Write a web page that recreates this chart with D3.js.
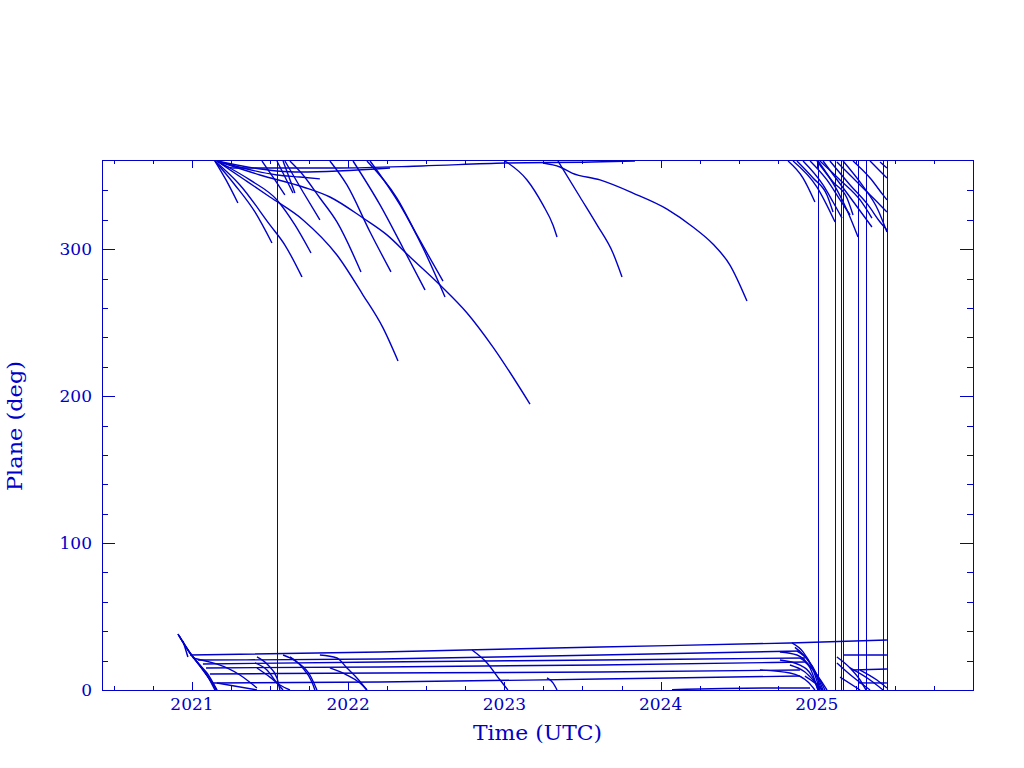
<!DOCTYPE html>
<html><head><meta charset="utf-8">
<script src="https://cdn.jsdelivr.net/npm/d3@7"></script>
<style>body{margin:0;background:#fff;}svg{display:block}</style>
</head><body>
<svg id="chart" width="1024" height="768"></svg>
<script>
// ---------- axis data ----------
const timeDomain = [2020.424, 2026.0];
const planeDomain = [0, 360];
const yearTicks = [2021, 2022, 2023, 2024, 2025];
const yearLabels = ["2021", "2022", "2023", "2024", "2025"];
const planeTicks = [0, 100, 200, 300];
const planeLabels = ["0", "100", "200", "300"];
const xLabel = "Time (UTC)";
const yLabel = "Plane (deg)";

// ---------- series: [year, plane deg] ----------
const launchTracks = [
  [[2020.910,38.1],[2020.987,25.2],[2021.051,17.0],[2021.096,11.6],[2021.160,0]],
  [[2020.910,38.1],[2020.974,27.2],[2021.038,18.4],[2021.096,10.2],[2021.147,0]],
  [[2020.920,36.5],[2021.006,22.5],[2021.070,13.6],[2021.134,4.1],[2021.160,0]],
  [[2020.915,37.4],[2020.995,24.0],[2021.060,15.5],[2021.115,7.0],[2021.155,0]],
  [[2020.942,33.3],[2020.974,22.5]]
];
const planeTracks = [
  [[2020.987,23.8],[2022.204,25.9],[2023.612,29.3],[2024.828,32.0],[2025.449,34.0]],
  [[2021.038,20.4],[2022.204,21.1],[2023.612,23.8],[2024.892,26.5]],
  [[2021.070,17.7],[2022.204,19.1],[2023.612,20.4],[2024.924,21.8]],
  [[2021.090,15.0],[2022.204,15.7],[2023.612,17.0],[2024.924,19.1]],
  [[2021.115,10.9],[2022.204,11.6],[2023.612,12.2],[2024.892,13.6]],
  [[2021.134,4.8],[2022.204,5.4],[2023.612,7.5],[2024.892,9.5]],
  [[2024.073,0.2],[2024.764,1.4],[2024.957,1.4]]
];
const stubTracks = [
  [[2025.168,23.8],[2025.449,23.8]],
  [[2025.232,13.6],[2025.449,14.3]],
  [[2025.264,4.8],[2025.449,4.8]]
];
const bottomDrops = [
  [[2021.416,22.5],[2021.487,17.0],[2021.544,8.2],[2021.563,0]],
  [[2021.403,18.4],[2021.480,13.6],[2021.544,4.8],[2021.583,0]],
  [[2021.416,15.0],[2021.499,8.8],[2021.563,3.4],[2021.627,0]],
  [[2021.583,23.8],[2021.672,19.1],[2021.755,10.2],[2021.800,0]],
  [[2021.627,22.5],[2021.704,15.7],[2021.768,5.4],[2021.787,0]],
  [[2021.819,23.8],[2021.928,21.8],[2021.992,15.0],[2022.056,8.2],[2022.120,0]],
  [[2021.883,15.0],[2021.992,10.2],[2022.076,4.8],[2022.120,0]],
  [[2021.006,21.8],[2021.307,10.2],[2021.416,1.4]],
  [[2021.160,4.8],[2021.416,0]],
  [[2022.793,27.2],[2022.889,18.4],[2022.972,6.8],[2023.023,0]],
  [[2023.273,8.2],[2023.311,4.8],[2023.337,0]]
];
const rightDrops = [
  [[2024.841,32.0],[2024.912,25.9],[2024.969,15.7],[2025.020,0]],
  [[2024.873,26.5],[2024.944,20.4],[2024.995,11.6],[2025.040,0]],
  [[2024.892,21.8],[2024.969,15.0],[2025.020,6.8],[2025.052,0]],
  [[2024.924,19.1],[2024.988,12.2],[2025.033,5.4],[2025.065,0]],
  [[2024.828,17.0],[2024.924,12.2],[2024.988,5.4],[2025.033,0]],
  [[2024.764,25.9],[2024.873,23.8],[2024.957,15.0],[2025.008,0]],
  [[2024.764,20.4],[2024.892,17.0],[2024.976,8.2],[2025.008,0]],
  [[2024.636,13.6],[2024.828,11.6],[2024.944,5.4],[2024.988,0]],
  [[2024.924,9.5],[2024.988,4.8],[2025.040,0]],
  [[2024.860,29.0],[2024.930,22.0],[2024.985,13.0],[2025.030,0]],
  [[2025.129,22.5],[2025.213,15.0],[2025.277,6.8],[2025.315,0]],
  [[2025.129,18.4],[2025.232,8.8],[2025.341,0]],
  [[2025.213,15.0],[2025.341,6.8],[2025.424,0]],
  [[2025.277,13.6],[2025.385,6.8],[2025.449,1.4]],
  [[2025.149,8.8],[2025.277,0]]
];
const topTracks = [
  [[2021.147,360],[2021.218,347.1],[2021.294,331.4]],
  [[2021.147,360],[2021.275,343.7],[2021.403,325.3],[2021.512,304.2]],
  [[2021.147,360],[2021.307,343.7],[2021.499,316.5],[2021.595,302.8],[2021.704,281.1]],
  [[2021.160,360],[2021.371,347.1],[2021.544,333.5],[2021.659,316.5],[2021.762,297.4]],
  [[2021.160,360],[2021.339,347.1],[2021.499,335.5],[2021.711,319.9],[2021.928,296.0],[2022.095,268.8],[2022.223,246.4],[2022.319,223.9]],
  [[2021.160,360],[2021.435,350.5],[2021.711,342.3],[2021.883,335.5],[2022.095,321.2],[2022.248,309.7],[2022.396,294.7],[2022.588,275.6],[2022.761,256.6],[2022.927,233.4],[2023.164,194.6]],
  [[2021.583,360],[2021.659,338.2]],
  [[2021.627,360],[2021.711,350.5],[2021.819,334.8],[2021.928,318.5],[2022.082,284.5]],
  [[2021.883,360],[2021.992,343.7],[2022.140,311.7],[2022.274,284.5]],
  [[2022.031,360],[2022.204,330.1],[2022.351,300.8],[2022.492,272.2]],
  [[2022.120,360],[2022.312,334.8],[2022.440,309.7],[2022.607,278.3]],
  [[2022.140,360],[2022.332,330.1],[2022.479,300.8],[2022.620,267.5]],
  [[2021.544,360],[2021.647,338.2]],
  [[2021.595,360],[2021.711,338.9],[2021.819,319.9]],
  [[2021.448,360],[2021.531,347.1],[2021.595,336.9]],
  [[2021.160,360],[2021.262,355.2],[2021.947,355.2],[2022.472,356.6],[2023.004,358.6],[2023.561,359.3],[2023.836,360]],
  [[2021.160,360],[2021.544,353.2],[2021.691,352.5],[2022.268,355.2]],
  [[2021.160,360],[2021.544,350.5],[2021.691,349.1],[2021.819,347.8]],
  [[2023.004,360],[2023.145,347.1],[2023.247,330.1],[2023.311,316.5],[2023.337,308.3]],
  [[2023.343,360],[2023.484,335.5],[2023.593,316.5],[2023.695,297.4],[2023.753,281.1]],
  [[2023.247,358.6],[2023.356,355.9],[2023.433,351.8],[2023.612,347.1],[2023.823,338.2],[2024.041,327.3],[2024.207,315.1],[2024.335,303.5],[2024.444,289.2],[2024.553,264.7]]
];
const rightTopTracks = [
  [[2024.816,360],[2024.912,348.4],[2024.988,332.1]],
  [[2024.848,360],[2025.001,342.3],[2025.117,318.5]],
  [[2024.873,360],[2024.976,348.4],[2025.065,336.9],[2025.104,325.3]],
  [[2024.912,360],[2025.040,343.7],[2025.104,332.1],[2025.161,321.2]],
  [[2025.008,360],[2025.129,340.3],[2025.193,326.7],[2025.264,308.3]],
  [[2025.001,360],[2025.104,345.7],[2025.193,334.8],[2025.232,323.3]],
  [[2025.040,360],[2025.193,338.2],[2025.353,315.1]],
  [[2025.084,360],[2025.213,343.7],[2025.328,330.1],[2025.405,318.5],[2025.449,313.1]],
  [[2025.129,359.3],[2025.296,341.6],[2025.405,330.1],[2025.449,325.3]],
  [[2025.232,360],[2025.341,348.4],[2025.424,336.9],[2025.449,333.5]],
  [[2025.341,360],[2025.417,351.8],[2025.449,348.4]],
  [[2025.405,359.3],[2025.449,355.2]],
  [[2024.957,360],[2025.065,347.1],[2025.149,333.5],[2025.213,323.3]],
  [[2025.020,360],[2025.149,347.1],[2025.277,333.5],[2025.353,321.2]],
  [[2025.168,360],[2025.290,343.7],[2025.392,326.7],[2025.449,311.7]]
];
const wrapYears = [2021.544, 2025.008, 2025.117, 2025.155, 2025.168, 2025.264, 2025.315, 2025.424, 2025.449];

// ---------- drawing ----------
const ink = "#0000c8";
const L = 102, R = 973, T = 161, B = 690;
const svg = d3.select("#chart");
const x = d3.scaleLinear().domain(timeDomain).range([L, R]);
const y = d3.scaleLinear().domain(planeDomain).range([B, T]);

const g = svg.append("g");
const line = d3.line().x(d => x(d[0])).y(d => y(d[1])).curve(d3.curveMonotoneX);
const allTracks = [].concat(launchTracks, planeTracks, stubTracks, bottomDrops, rightDrops, topTracks, rightTopTracks);
g.selectAll("path.trk").data(allTracks).enter().append("path")
  .attr("class", "trk").attr("d", line)
  .attr("fill", "none").attr("stroke", ink).attr("stroke-width", 1.4);
g.selectAll("line.wrap").data(wrapYears).enter().append("line")
  .attr("shape-rendering", "crispEdges")
  .attr("x1", d => Math.round(x(d)) + 0.5).attr("x2", d => Math.round(x(d)) + 0.5)
  .attr("y1", y(0)).attr("y2", y(360))
  .attr("stroke", ink).attr("stroke-width", 1);

// frame
svg.append("rect").attr("shape-rendering", "crispEdges")
  .attr("x", L).attr("y", T - 1).attr("width", R - L).attr("height", B - T + 1)
  .attr("fill", "none").attr("stroke", ink).attr("stroke-width", 1);

// axes with ticks on all sides
const xMinor = d3.range(2020.5, 2026.0, 0.25).filter(v => !yearTicks.includes(v));
const yMinor = d3.range(20, 360, 20).filter(v => !planeTicks.includes(v));
function drawAxis(axis, tr) {
  const a = svg.append("g").attr("transform", tr).attr("shape-rendering", "crispEdges").call(axis);
  a.select(".domain").remove();
  a.selectAll(".tick line").attr("stroke", ink);
  a.selectAll(".tick text").remove();
  return a;
}
drawAxis(d3.axisBottom(x).tickValues(yearTicks).tickSizeInner(-8).tickSizeOuter(0), `translate(0,${B})`);
drawAxis(d3.axisBottom(x).tickValues(xMinor).tickSizeInner(-4).tickSizeOuter(0), `translate(0,${B})`);
drawAxis(d3.axisTop(x).tickValues(yearTicks).tickSizeInner(-8).tickSizeOuter(0), `translate(0,${T - 1})`);
drawAxis(d3.axisTop(x).tickValues(xMinor).tickSizeInner(-4).tickSizeOuter(0), `translate(0,${T - 1})`);
drawAxis(d3.axisLeft(y).tickValues(planeTicks).tickSizeInner(-13).tickSizeOuter(0), `translate(${L},0)`);
drawAxis(d3.axisLeft(y).tickValues(yMinor).tickSizeInner(-6).tickSizeOuter(0), `translate(${L},0)`);
drawAxis(d3.axisRight(y).tickValues(planeTicks).tickSizeInner(-13).tickSizeOuter(0), `translate(${R},0)`);
drawAxis(d3.axisRight(y).tickValues(yMinor).tickSizeInner(-6).tickSizeOuter(0), `translate(${R},0)`);

// labels
const font = "'DejaVu Serif', serif";
svg.selectAll("text.xl").data(yearTicks).enter().append("text")
  .attr("x", d => x(d)).attr("y", 710).attr("text-anchor", "middle")
  .attr("font-family", font).attr("font-size", 17).attr("fill", ink)
  .text((d, i) => yearLabels[i]);
svg.selectAll("text.yl").data(planeTicks).enter().append("text")
  .attr("x", 92).attr("y", d => y(d) + 6).attr("text-anchor", "end")
  .attr("font-family", font).attr("font-size", 17).attr("fill", ink)
  .text((d, i) => planeLabels[i]);
svg.append("text").attr("x", 537.5).attr("y", 740).attr("text-anchor", "middle")
  .attr("font-family", font).attr("font-size", 20).attr("fill", ink)
  .attr("textLength", 129).attr("lengthAdjust", "spacingAndGlyphs").text(xLabel);
svg.append("text").attr("transform", "translate(22,426) rotate(-90)").attr("text-anchor", "middle")
  .attr("font-family", font).attr("font-size", 20).attr("fill", ink)
  .attr("textLength", 130).attr("lengthAdjust", "spacingAndGlyphs").text(yLabel);
</script>
</body></html>
